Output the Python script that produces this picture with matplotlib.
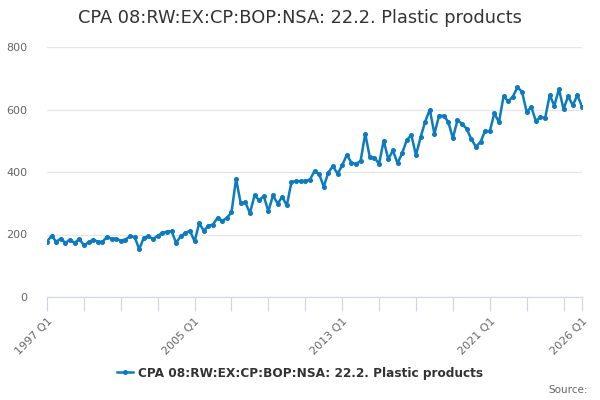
import numpy as np
import matplotlib.pyplot as plt
from matplotlib.lines import Line2D

# quarterly series, 1997 Q1 .. 2026 Q1
quarters = [f"{y} Q{q}" for y in range(1997, 2027) for q in range(1, 5)][:117]
values = [
    177, 196, 177, 187, 173, 184, 172, 187, 165, 175, 184, 177, 176, 193, 186, 187,
    180, 184, 194, 192, 153, 190, 194, 186, 196, 205, 209, 211, 173, 195, 204, 212,
    178, 236, 212, 228, 232, 254, 244, 253, 271, 378, 300, 303, 268, 325, 310, 323,
    274, 325, 299, 320, 293, 368, 371, 370, 372, 375, 403, 394, 353, 398, 419, 394,
    421, 455, 430, 425, 436, 522, 447, 446, 426, 500, 441, 469, 428, 460, 502, 518,
    454, 511, 561, 600, 522, 580, 580, 561, 508, 566, 554, 538, 505, 481, 496, 532,
    530, 588, 559, 643, 626, 641, 671, 657, 592, 608, 563, 577, 572, 646, 612, 665,
    601, 643, 613, 646, 609,
]
series_name = "CPA 08:RW:EX:CP:BOP:NSA: 22.2. Plastic products"
label_idx = [0, 32, 64, 96, 116]
tick_idx = list(range(0, 116, 8)) + [116]

blue = "#0c7bc0"
grey = "#666666"
axis_col = "#ccd6eb"

fig = plt.figure(figsize=(6, 4), dpi=100)
ax = fig.add_axes([47 / 600, 103 / 400, 535 / 600, 250 / 400])

x = np.arange(len(values))
ax.plot(x, values, color=blue, lw=1.8, marker="o", ms=2.6, zorder=3)

ax.set_xlim(0, 116)
ax.set_ylim(0, 800)
ax.set_yticks([0, 200, 400, 600, 800])
ax.grid(axis="y", color="#e6e6e6", lw=1)
ax.tick_params(axis="y", length=0, colors=grey, labelsize=8, pad=14)

ax.set_xticks(tick_idx)
ax.set_xticklabels([quarters[i] if i in label_idx else "" for i in tick_idx],
                   rotation=45, ha="right", rotation_mode="anchor")
ax.tick_params(axis="x", length=10, color=axis_col, colors=grey, labelsize=8, pad=4)
for lab in ax.get_xticklabels():
    lab.set_color(grey)

for s in ["top", "right", "left"]:
    ax.spines[s].set_visible(False)
ax.spines["bottom"].set_color(axis_col)

fig.text(0.5, 1 - 18 / 400, series_name, ha="center", va="center",
         fontsize=12.8, color="#333333")

handle = Line2D([], [], color=blue, lw=1.8, marker="o", ms=2.6)
fig.legend([handle], [series_name], loc="center", bbox_to_anchor=(0.5, 1 - 373 / 400),
           frameon=False, prop={"weight": "bold", "size": 8.7}, handlelength=1.3,
           handletextpad=0.4, labelcolor="#333333")

fig.text(588 / 600, 1 - 390 / 400, "Source:", ha="right", va="center",
         fontsize=7.5, color=grey)

fig.savefig("out.png", dpi=100)
